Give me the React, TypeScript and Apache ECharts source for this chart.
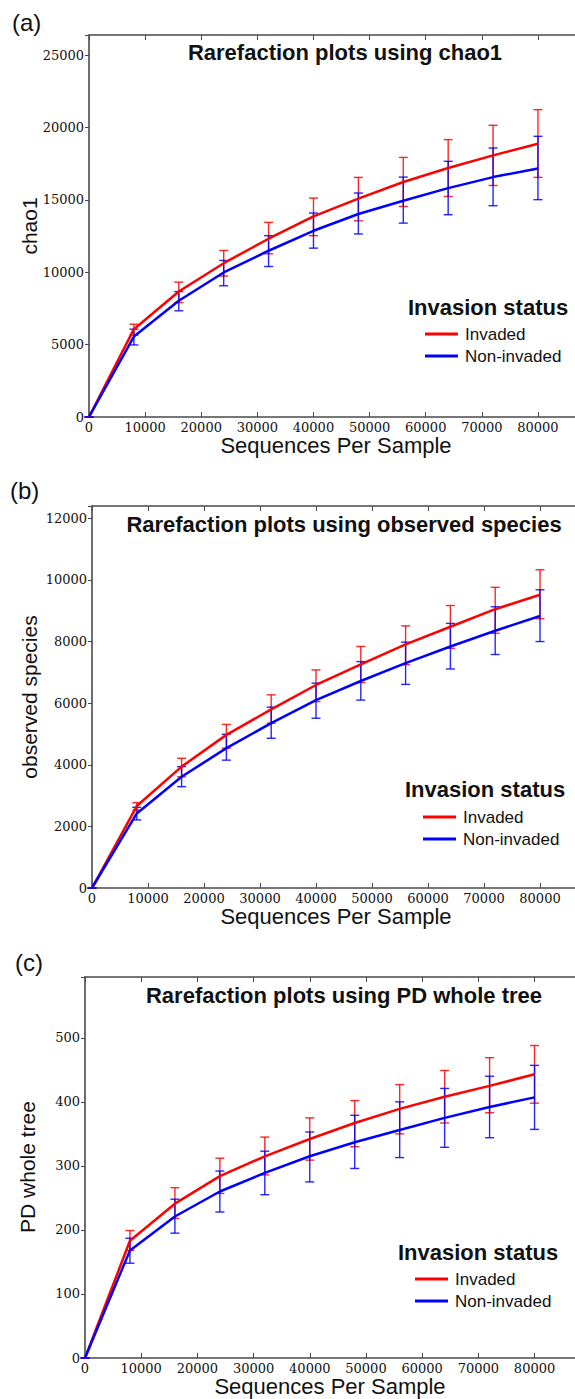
import React, { useEffect, useRef } from "react";
import * as echarts from "echarts";

const depths = [0, 8000, 16000, 24000, 32000, 40000, 48000, 56000, 64000, 72000, 80000];
const seriesNames = ["Invaded", "Non-invaded"];
const xTitle = "Sequences Per Sample";
const legendTitle = "Invasion status";

// (a) chao1
const chaoInvMean = [0, 6070, 8670, 10630, 12320, 13860, 15090, 16240, 17210, 18080, 18890];
const chaoInvLow = [0, 5650, 7910, 9740, 11280, 12530, 13560, 14550, 15240, 16000, 16560];
const chaoInvHigh = [0, 6410, 9320, 11510, 13450, 15130, 16560, 17940, 19170, 20160, 21240];
const chaoNonMean = [0, 5560, 8030, 9990, 11490, 12870, 14030, 14950, 15820, 16580, 17180];
const chaoNonLow = [0, 4980, 7340, 9070, 10400, 11670, 12650, 13400, 13980, 14600, 15020];
const chaoNonHigh = [0, 6070, 8670, 10820, 12530, 14100, 15480, 16580, 17670, 18590, 19400];

// (b) observed species
const obsInvMean = [0, 2660, 3940, 4970, 5800, 6590, 7260, 7910, 8480, 9050, 9520];
const obsInvLow = [0, 2530, 3610, 4540, 5350, 6050, 6670, 7250, 7780, 8270, 8740];
const obsInvHigh = [0, 2770, 4210, 5310, 6270, 7080, 7840, 8510, 9170, 9760, 10330];
const obsNonMean = [0, 2420, 3610, 4540, 5350, 6100, 6720, 7300, 7840, 8350, 8830];
const obsNonLow = [0, 2210, 3290, 4150, 4860, 5510, 6100, 6610, 7110, 7580, 8000];
const obsNonHigh = [0, 2620, 3940, 4990, 5870, 6650, 7350, 7980, 8590, 9130, 9680];

// (c) PD whole tree
const pdInvMean = [0, 183, 241, 284, 315, 342, 367, 389, 408, 425, 443];
const pdInvLow = [0, 168, 218, 257, 286, 309, 330, 350, 367, 383, 398];
const pdInvHigh = [0, 199, 266, 312, 345, 375, 402, 427, 449, 469, 488];
const pdNonMean = [0, 168, 221, 260, 289, 315, 337, 356, 375, 392, 407];
const pdNonLow = [0, 148, 195, 228, 255, 275, 296, 313, 329, 344, 357];
const pdNonHigh = [0, 187, 248, 292, 323, 353, 379, 400, 421, 440, 457];

const panelLabels = ["(a)", "(b)", "(c)"];
const panelTitles = [
  "Rarefaction plots using chao1",
  "Rarefaction plots using observed species",
  "Rarefaction plots using PD whole tree",
];
const yTitles = ["chao1", "observed species", "PD whole tree"];
const yMax = [26400, 12400, 595];
const yInterval = [5000, 2000, 100];
const xMax = [86600, 86250, 87200];

const RED = "#ff0000";
const BLUE = "#0000ff";
const SANS = "'Liberation Sans', Arial, Helvetica, sans-serif";
const SERIF = "'DejaVu Serif', serif";
const AXIS = "#4a4a4a";

// layout (pixels)
const grids = [
  { left: 89, top: 35, width: 486, height: 382 },
  { left: 92, top: 506, width: 483, height: 382 },
  { left: 85, top: 977, width: 490, height: 381 },
];
const layoutText = [
  { lab: [12, 22], title: [345, 52], ylab: [29, 226], xlab: [336, 445], head: [408, 307], legend: [425, 325] },
  { lab: [10, 490], title: [344, 524], ylab: [29, 697], xlab: [336, 916], head: [405, 789], legend: [423, 808] },
  { lab: [15, 962], title: [344, 995], ylab: [27, 1167], xlab: [330, 1386], head: [398, 1252], legend: [415, 1270] },
];

const panels = [
  { inv: [chaoInvMean, chaoInvLow, chaoInvHigh], non: [chaoNonMean, chaoNonLow, chaoNonHigh] },
  { inv: [obsInvMean, obsInvLow, obsInvHigh], non: [obsNonMean, obsNonLow, obsNonHigh] },
  { inv: [pdInvMean, pdInvLow, pdInvHigh], non: [pdNonMean, pdNonLow, pdNonHigh] },
];

function errorSeries(name: string, idx: number, low: number[], high: number[], color: string) {
  return {
    type: "custom",
    name,
    xAxisIndex: idx * 2,
    yAxisIndex: idx,
    z: 2,
    data: depths.map((d, i) => [d, low[i], high[i]]),
    encode: { x: 0, y: [1, 2] },
    renderItem: (params: any, api: any) => {
      const x = api.value(0);
      const lo = api.coord([x, api.value(1)]);
      const hi = api.coord([x, api.value(2)]);
      const w = 4.5;
      const style = { stroke: color, lineWidth: 1.4, opacity: 0.85 };
      return {
        type: "group",
        children: [
          { type: "line", shape: { x1: lo[0], y1: lo[1], x2: hi[0], y2: hi[1] }, style },
          { type: "line", shape: { x1: lo[0] - w, y1: lo[1], x2: lo[0] + w, y2: lo[1] }, style },
          { type: "line", shape: { x1: hi[0] - w, y1: hi[1], x2: hi[0] + w, y2: hi[1] }, style },
        ],
      };
    },
  };
}

function lineSeries(name: string, idx: number, mean: number[], color: string) {
  return {
    type: "line",
    name,
    xAxisIndex: idx * 2,
    yAxisIndex: idx,
    z: 3,
    symbol: "none",
    showSymbol: false,
    lineStyle: { color, width: 2.5 },
    itemStyle: { color },
    data: depths.map((d, i) => [d, mean[i]]),
  };
}

export default function App() {
  const ref = useRef<HTMLDivElement>(null);
  useEffect(() => {
    if (!ref.current) return;
    const chart = echarts.init(ref.current, null, { renderer: "svg" });

    const xAxes: any[] = [];
    const yAxes: any[] = [];
    const series: any[] = [];
    const legends: any[] = [];
    const graphics: any[] = [];

    grids.forEach((g, i) => {
      xAxes.push({
        type: "value",
        gridIndex: i,
        min: 0,
        max: xMax[i],
        interval: 10000,
        position: "bottom",
        splitLine: { show: false },
        axisLine: { show: true, lineStyle: { color: AXIS, width: 1.6 } },
        axisTick: { show: true, inside: true, length: 5, lineStyle: { color: AXIS, width: 1 } },
        axisLabel: {
          margin: 4,
          color: "#111",
          fontFamily: SERIF,
          fontSize: 13,
          lineHeight: 13,
          showMaxLabel: false,
          formatter: (v: number) => (v % 10000 === 0 ? String(v) : ""),
        },
      });
      xAxes.push({
        type: "value",
        gridIndex: i,
        min: 0,
        max: xMax[i],
        interval: 10000,
        position: "top",
        splitLine: { show: false },
        axisLine: { show: true, lineStyle: { color: AXIS, width: 1.6 } },
        axisTick: { show: true, inside: true, length: 5, lineStyle: { color: AXIS, width: 1 } },
        axisLabel: { show: false },
      });
      yAxes.push({
        type: "value",
        gridIndex: i,
        min: 0,
        max: yMax[i],
        interval: yInterval[i],
        splitLine: { show: false },
        axisLine: { show: true, lineStyle: { color: AXIS, width: 1.6 } },
        axisTick: { show: true, inside: false, length: 4, lineStyle: { color: AXIS, width: 1 } },
        axisLabel: {
          margin: 5,
          color: "#111",
          fontFamily: SERIF,
          fontSize: 13,
          formatter: (v: number) => (v % yInterval[i] === 0 ? String(v) : ""),
        },
      });

      const p = panels[i];
      series.push(errorSeries("Invaded error", i, p.inv[1], p.inv[2], RED));
      series.push(errorSeries("Non-invaded error", i, p.non[1], p.non[2], BLUE));
      series.push(lineSeries(seriesNames[0], i, p.inv[0], RED));
      series.push(lineSeries(seriesNames[1], i, p.non[0], BLUE));

      const t = layoutText[i];
      legends.push({
        data: seriesNames,
        orient: "vertical",
        left: t.legend[0],
        top: t.legend[1],
        padding: 0,
        itemGap: 4,
        itemWidth: 33,
        itemHeight: 3,
        icon: "rect",
        selectedMode: false,
        textStyle: { fontSize: 17, lineHeight: 18, color: "#111", fontFamily: SANS, padding: [0, 0, 0, 2] },
      });

      graphics.push(
        {
          type: "text",
          x: t.lab[0],
          y: t.lab[1],
          style: { text: panelLabels[i], font: `24px ${SANS}`, fill: "#111", textAlign: "left", textVerticalAlign: "middle" },
        },
        {
          type: "text",
          x: t.title[0],
          y: t.title[1],
          style: { text: panelTitles[i], font: `bold 22px ${SANS}`, fill: "#111", textAlign: "center", textVerticalAlign: "middle" },
        },
        {
          type: "text",
          x: t.ylab[0],
          y: t.ylab[1],
          rotation: Math.PI / 2,
          style: { text: yTitles[i], font: `21px ${SANS}`, fill: "#111", textAlign: "center", textVerticalAlign: "middle" },
        },
        {
          type: "text",
          x: t.xlab[0],
          y: t.xlab[1],
          style: { text: xTitle, font: `22px ${SANS}`, fill: "#111", textAlign: "center", textVerticalAlign: "middle" },
        },
        {
          type: "text",
          x: t.head[0],
          y: t.head[1],
          style: { text: legendTitle, font: `bold 22px ${SANS}`, fill: "#111", textAlign: "left", textVerticalAlign: "middle" },
        }
      );
    });

    chart.setOption({
      animation: false,
      backgroundColor: "#ffffff",
      grid: grids.map((g) => ({ ...g, containLabel: false })),
      xAxis: xAxes,
      yAxis: yAxes,
      legend: legends,
      series,
      graphic: graphics,
    });
    return () => chart.dispose();
  }, []);

  return (
    <div
      ref={ref}
      style={{ position: "absolute", left: 0, top: 0, width: 575, height: 1399, background: "#fff" }}
    />
  );
}
